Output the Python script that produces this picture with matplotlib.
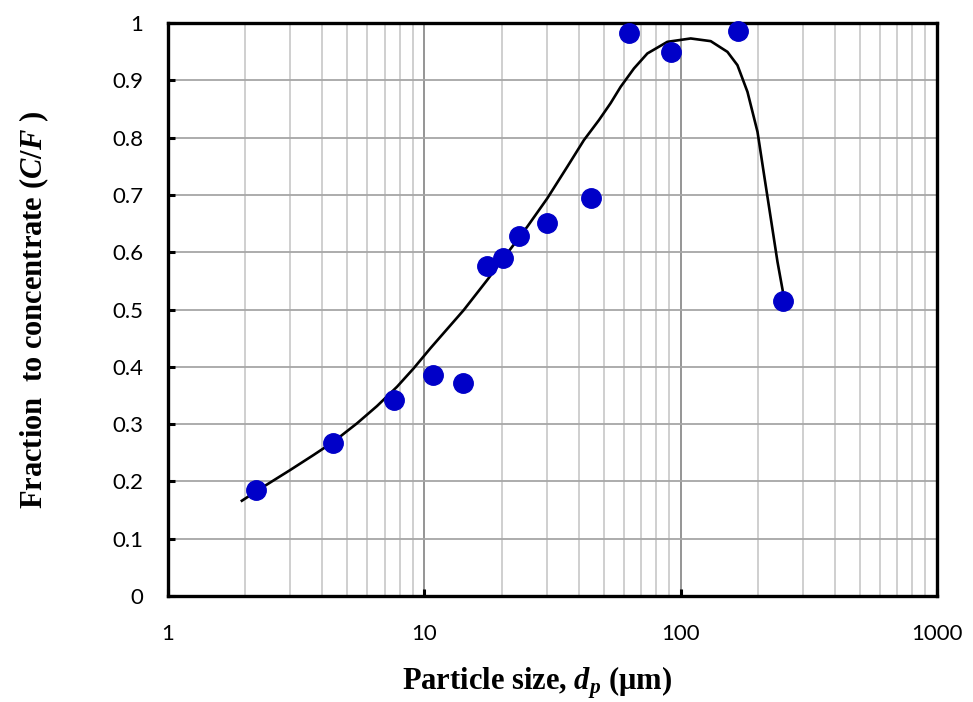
import numpy as np
import matplotlib.pyplot as plt
from matplotlib.ticker import LogLocator, FixedLocator, NullFormatter

# measured points
size_um = [2.21, 4.41, 7.63, 10.8, 14.2, 17.5, 20.2, 23.3, 30.2, 44.5, 62.6, 91.4, 167, 250]
frac_conc = [0.185, 0.267, 0.342, 0.386, 0.372, 0.576, 0.590, 0.628, 0.651, 0.695, 0.982, 0.949, 0.986, 0.515]

# fitted partition curve
fit_size = [1.941, 2.357, 2.996, 3.694, 4.423, 5.460, 6.536, 7.824, 9.083, 10.55, 11.55, 14.24,
            17.58, 21.04, 25.19, 30.16, 36.09, 41.92, 47.97, 53.30, 58.30, 65.71, 74.13, 88.72,
            109.4, 131.0, 152.2, 166.5, 182.2, 199.4, 211.6, 224.7, 238.6, 254.8]
fit_frac = [0.1663, 0.1908, 0.2199, 0.2461, 0.2693, 0.3014, 0.3316, 0.3653, 0.3974, 0.4323, 0.4525,
            0.4991, 0.5515, 0.5981, 0.6445, 0.6941, 0.7492, 0.7958, 0.8307, 0.8604, 0.8888, 0.9209,
            0.9471, 0.9674, 0.9733, 0.9686, 0.9499, 0.9267, 0.8801, 0.8103, 0.7347, 0.6592, 0.5834,
            0.5131]

plt.rcParams['mathtext.fontset'] = 'custom'
plt.rcParams['mathtext.it'] = 'Liberation Serif:italic:bold'
plt.rcParams['mathtext.rm'] = 'Liberation Serif:bold'
plt.rcParams['mathtext.bf'] = 'Liberation Serif:bold'

fig = plt.figure(figsize=(9.73, 7.02), dpi=100)
ax = fig.add_axes([0.1727, 0.151, 0.7903, 0.816])

ax.plot(fit_size, fit_frac, color='black', lw=1.9, zorder=3, solid_joinstyle='round')
ax.plot(size_um, frac_conc, 'o', color='#0000C8', ms=14, mec='#0000C8', zorder=4, clip_on=False)

ax.set_xscale('log')
ax.set_xlim(1, 1000)
ax.set_ylim(0, 1)
ax.set_yticks(np.arange(0, 1.01, 0.1))
ax.set_yticklabels(['0', '0.1', '0.2', '0.3', '0.4', '0.5', '0.6', '0.7', '0.8', '0.9', '1'])
ax.xaxis.set_major_locator(FixedLocator([1, 10, 100, 1000]))
ax.set_xticklabels(['1', '10', '100', '1000'])
ax.xaxis.set_minor_locator(LogLocator(base=10, subs=np.arange(2, 10)))
ax.xaxis.set_minor_formatter(NullFormatter())

ax.grid(which='major', axis='y', color='#a6a6a6', lw=1.3)
ax.grid(which='major', axis='x', color='#8c8c8c', lw=1.3)
ax.grid(which='minor', axis='x', color='#cccccc', lw=1.3)
ax.set_axisbelow(True)

for s in ax.spines.values():
    s.set_linewidth(2.4)
ax.tick_params(which='major', direction='in', length=5, width=2.2, labelsize=16)
ax.tick_params(which='minor', length=0)
ax.tick_params(axis='y', pad=18)
ax.tick_params(axis='x', pad=20)
for lbl in ax.get_xticklabels() + ax.get_yticklabels():
    lbl.set_fontfamily('Lato')

ax.set_xlabel(r'Particle size, $d_p$ ($\mathrm{\mu}$m)', fontfamily='Liberation Serif',
              fontweight='bold', fontsize=22, labelpad=15)
ax.xaxis.label.set_x(0.48)
ax.set_ylabel(r'Fraction  to concentrate ($C/F$ )', fontfamily='Liberation Serif',
              fontweight='bold', fontsize=22, labelpad=44)

fig.savefig('out.png', dpi=100)
